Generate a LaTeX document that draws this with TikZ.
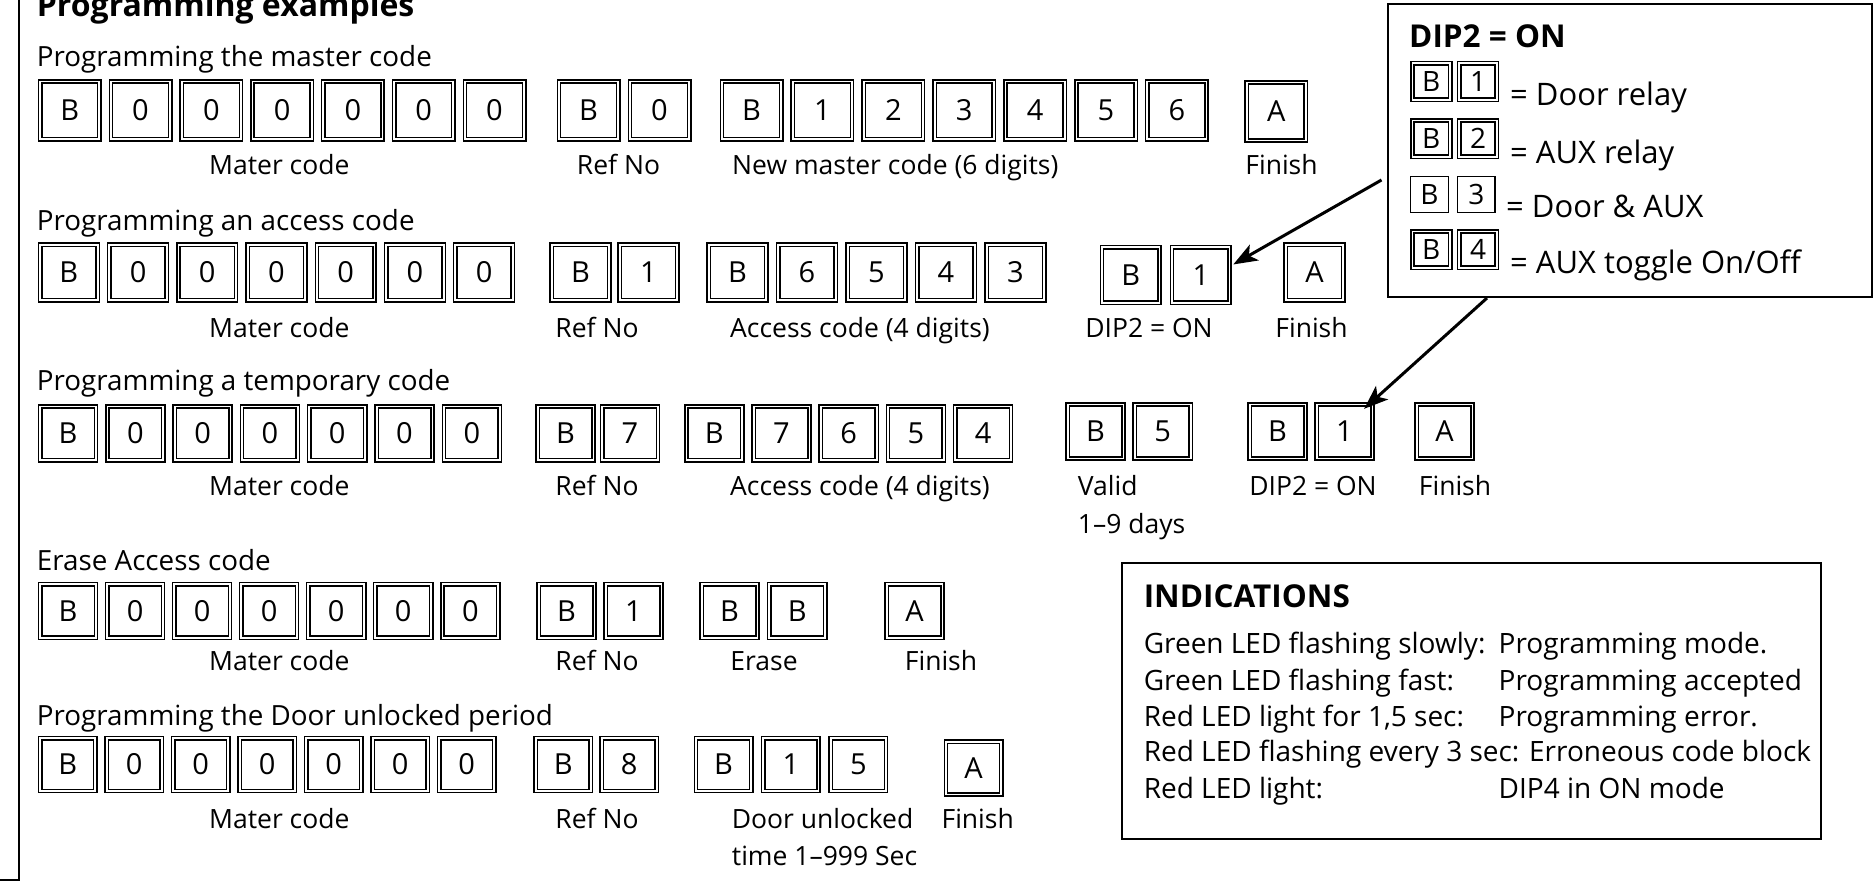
\documentclass[tikz,border=0pt]{standalone}
\usepackage{fontspec}
\setmainfont{Open Sans}
\usetikzlibrary{arrows.meta}
\newcommand\fsz[1]{\fontsize{#1}{#1}\selectfont}
\newcommand\keyrow[6][key]{%
  \foreach \kk [count=\ii from 0] in {#6} {\node[#1] (#2\ii) at ({#3+\ii*(#4)},#5) {\kk};}}
\begin{document}
\begin{tikzpicture}[x=1pt,y=-1pt,
  key/.style={draw=black, double=white, double distance=1.8pt, line width=1.5pt,
    inner sep=0pt, font=\fsz{29}},
  skey/.style={draw=black, line width=1.4pt, inner sep=0pt, font=\fsz{28},
    minimum width=37.6pt, minimum height=35.6pt},
  head/.style={anchor=base west, inner sep=0pt, font=\fsz{27.8}},
  lab/.style={anchor=base, inner sep=0pt, font=\fsz{26.5}},
  labw/.style={anchor=base west, inner sep=0pt, font=\fsz{26.5}},
  ptxt/.style={anchor=base west, inner sep=0pt, font=\fsz{31}},
  itxt/.style={anchor=base west, inner sep=0pt, font=\fsz{28}},
  panel/.style={draw=black, line width=2pt, anchor=north west, inner sep=0pt},
  arr/.style={line width=3pt, -{Stealth[length=24pt,width=18pt,inset=6pt]}}
]
\useasboundingbox (0,0) rectangle (1876,883);

% frame corner
\draw[line width=2pt] (19.3,0) -- (19.3,880) -- (0,880);

\node[anchor=base west, inner sep=0pt, font=\bfseries\fsz{32}] (title) at (36.7,17) {Programming examples};

% ---------- Row 1 ----------
\node[head] (h1) at (36.7,66.7) {Programming the master code};
\begin{scope}[key/.append style={minimum width=59.2pt, minimum height=57.9pt}]
  \keyrow{ra}{69.7}{70.8}{110.35}{B,0,0,0,0,0,0}
  \keyrow{rar}{588.5}{71}{110.35}{B,0}
  \keyrow{ran}{751.5}{70.9}{110.35}{B,1,2,3,4,5,6}
  \node[key] (raa) at (1276.25,111.5) {A};
\end{scope}
\node[lab] (la1) at (279.3,174) {Mater code};
\node[lab] (la2) at (618.5,174) {Ref No};
\node[labw] (la3) at (732,174) {New master code (6 digits)};
\node[lab] (la4) at (1281.5,174) {Finish};

% ---------- Row 2 ----------
\node[head] (h2) at (36.7,230) {Programming an access code};
\begin{scope}[key/.append style={minimum width=57.5pt, minimum height=55.6pt}]
  \keyrow{rb}{68.85}{69.2}{272.5}{B,0,0,0,0,0,0}
  \keyrow{rbr}{580.5}{68}{272.5}{B,1}
  \keyrow{rbc}{737.5}{69.5}{272.5}{B,6,5,4,3}
  \keyrow{rbd}{1130.8}{70}{275}{B,1}
  \node[key] (rba) at (1314.5,272.5) {A};
\end{scope}
\node[lab] (lb1) at (279.3,337.3) {Mater code};
\node[lab] (lb2) at (597,337.3) {Ref No};
\node[labw] (lb3) at (730,337.3) {Access code (4 digits)};
\node[lab] (lb4) at (1149,337.3) {DIP2 = ON};
\node[lab] (lb5) at (1311.5,337.3) {Finish};

% ---------- Row 3 ----------
\node[head] (h3) at (36.7,390) {Programming a temporary code};
\begin{scope}[key/.append style={minimum width=55.8pt, minimum height=53.9pt}]
  \keyrow{rc}{68}{67.3}{433.35}{B,0,0,0,0,0,0}
  \keyrow{rcr}{565.5}{64.5}{433.35}{B,7}
  \keyrow{rcc}{714.3}{67.2}{433.35}{B,7,6,5,4}
  \keyrow{rcv}{1095.5}{67.25}{431.5}{B,5}
  \keyrow{rcd}{1277.5}{67}{431.5}{B,1}
  \node[key] (rca) at (1444.5,431.5) {A};
\end{scope}
\node[lab] (lc1) at (279.3,495) {Mater code};
\node[lab] (lc2) at (597,495) {Ref No};
\node[labw] (lc3) at (730,495) {Access code (4 digits)};
\node[labw] (lc4) at (1077.7,495) {Valid};
\node[labw] (lc5) at (1077.7,533) {1–9 days};
\node[lab] (lc6) at (1313,495) {DIP2 = ON};
\node[lab] (lc7) at (1455,495) {Finish};

% ---------- Row 4 ----------
\node[head] (h4) at (36.7,570) {Erase Access code};
\begin{scope}[key/.append style={minimum width=55.8pt, minimum height=53.5pt}]
  \keyrow{rd}{68}{67.05}{610.85}{B,0,0,0,0,0,0}
  \keyrow{rdr}{566.5}{67}{610.85}{B,1}
  \keyrow{rde}{729.5}{67.7}{610.85}{B,B}
  \node[key] (rda) at (914.5,610.85) {A};
\end{scope}
\node[lab] (ld1) at (279.3,670.7) {Mater code};
\node[lab] (ld2) at (597,670.7) {Ref No};
\node[lab] (ld3) at (764,670.7) {Erase};
\node[lab] (ld4) at (941,670.7) {Finish};

% ---------- Row 5 ----------
\node[head] (h5) at (36.7,725) {Programming the Door unlocked period};
\begin{scope}[key/.append style={minimum width=55.2pt, minimum height=52.8pt}]
  \keyrow{re}{67.7}{66.5}{764.5}{B,0,0,0,0,0,0}
  \keyrow{rer}{563.25}{66}{764.5}{B,8}
  \keyrow{ret}{723.5}{67.4}{764.5}{B,1,5}
  \node[key] (rea) at (973.5,768) {A};
\end{scope}
\node[lab] (le1) at (279.3,828.3) {Mater code};
\node[lab] (le2) at (597,828.3) {Ref No};
\node[labw] (le3) at (731.7,828.3) {Door unlocked};
\node[labw] (le4) at (731.7,865.5) {time 1–999 Sec};
\node[lab] (le5) at (977.7,828.3) {Finish};

% ---------- DIP2 panel ----------
\node[panel, minimum width=483.5pt, minimum height=293pt] (dipbox) at (1387,3) {};
\node[anchor=base west, inner sep=0pt, font=\bfseries\fsz{31.5}] (diptitle) at (1409,48) {DIP2 = ON};
\begin{scope}[key/.append style={minimum width=37.7pt, minimum height=36.2pt, font=\fsz{28}}]
  \keyrow{pa}{1431.25}{46.75}{81.5}{B,1}
  \keyrow{pb}{1431.25}{46.75}{138.5}{B,2}
  \keyrow{pd}{1431.25}{46.75}{249.5}{B,4}
\end{scope}
\keyrow[skey]{pc}{1429.5}{46.75}{194.5}{B,3}
\node[ptxt] (pta) at (1510,105) {= Door relay};
\node[ptxt] (ptb) at (1510,163) {= AUX relay};
\node[ptxt] (ptc) at (1506,217) {= Door \& AUX};
\node[ptxt] (ptd) at (1510,273) {= AUX toggle On/Off};

% ---------- Indications panel ----------
\node[panel, minimum width=699pt, minimum height=276pt] (indbox) at (1121,562) {};
\node[anchor=base west, inner sep=0pt, font=\bfseries\fsz{31.5}] (indtitle) at (1143.6,607) {INDICATIONS};
\node[itxt] (i1a) at (1143.6,653) {Green LED flashing slowly:};
\node[itxt] (i1b) at (1498.5,653) {Programming mode.};
\node[itxt] (i2a) at (1143.6,690) {Green LED flashing fast:};
\node[itxt] (i2b) at (1498.5,690) {Programming accepted};
\node[itxt] (i3a) at (1143.6,726.7) {Red LED light for 1,5 sec:};
\node[itxt] (i3b) at (1498.5,726.7) {Programming error.};
\node[itxt] (i4a) at (1143.6,761.7) {Red LED flashing every 3 sec: Erroneous code block};
\node[itxt] (i5a) at (1143.6,798) {Red LED light:};
\node[itxt] (i5b) at (1498.5,798) {DIP4 in ON mode};

% ---------- arrows ----------
\coordinate (a1s) at (1381.5,180);
\coordinate (a2s) at (1487,298);
\draw[arr] (a1s) -- ([xshift=3pt,yshift=-18pt]rbd1.north east);
\draw[arr] (a2s) -- ([xshift=-9pt,yshift=-5pt]rcd1.north east);
\end{tikzpicture}
\end{document}
